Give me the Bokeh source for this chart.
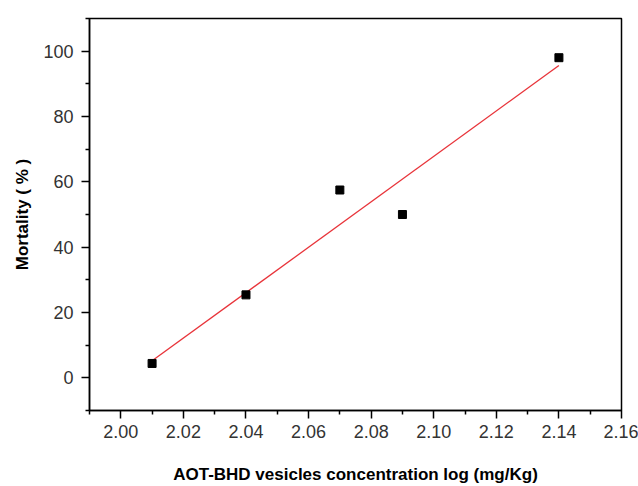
from bokeh.plotting import figure
from bokeh.embed import file_html
from bokeh.resources import INLINE
from bokeh.models import Range1d, FixedTicker

# Data
conc_log = [2.01, 2.04, 2.07, 2.09, 2.14]
mortality = [4.4, 25.4, 57.5, 50.0, 98.0]

# Linear fit line endpoints (as drawn)
fit_x = [2.01, 2.14]
fit_y = [5.2, 95.6]

x_ticks = [2.00, 2.02, 2.04, 2.06, 2.08, 2.10, 2.12, 2.14, 2.16]
x_minor = [1.99, 2.01, 2.03, 2.05, 2.07, 2.09, 2.11, 2.13, 2.15]
y_ticks = [0, 20, 40, 60, 80, 100]
y_minor = [-10, 10, 30, 50, 70, 90, 110]

p = figure(width=638, height=486, output_backend="svg", toolbar_location=None,
           x_range=Range1d(1.99, 2.16), y_range=Range1d(-10, 110))
p.min_border_left = 89
p.min_border_right = 17
p.min_border_top = 18
p.min_border_bottom = 74
p.grid.visible = False
p.outline_line_color = "black"
p.outline_line_width = 1.5
p.background_fill_color = "white"
p.border_fill_color = "white"

p.line(fit_x, fit_y, line_color="#e8343a", line_width=1.3)
p.scatter(conc_log, mortality, marker="square", size=8, fill_color="black", line_color="black")

p.xaxis.ticker = FixedTicker(ticks=x_ticks, minor_ticks=x_minor)
p.yaxis.ticker = FixedTicker(ticks=y_ticks, minor_ticks=y_minor)
p.xaxis.major_label_overrides = {t: f"{t:.2f}" for t in x_ticks}

p.xaxis.axis_label = "AOT-BHD vesicles concentration log (mg/Kg)"
p.yaxis.axis_label = "Mortality ( % )"

for ax in (p.xaxis, p.yaxis):
    ax.axis_line_width = 1.5
    ax.axis_line_color = "black"
    ax.major_tick_line_width = 1.5
    ax.minor_tick_line_width = 1.5
    ax.major_tick_line_color = "black"
    ax.minor_tick_line_color = "black"
    ax.major_tick_out = 8
    ax.major_tick_in = 0
    ax.minor_tick_out = 4
    ax.minor_tick_in = 0
    ax.major_label_text_font = "Liberation Sans"
    ax.major_label_text_font_size = "18px"
    ax.major_label_text_color = "#333333"
    ax.axis_label_text_font = "Liberation Sans"
    ax.axis_label_text_font_size = "17px"
    ax.axis_label_text_font_style = "bold"
    ax.axis_label_text_color = "black"

p.xaxis.major_label_standoff = 6
p.yaxis.major_label_standoff = 8
p.xaxis.axis_label_standoff = 24
p.yaxis.axis_label_standoff = 8

open("out.html", "w").write(file_html(p, INLINE))
